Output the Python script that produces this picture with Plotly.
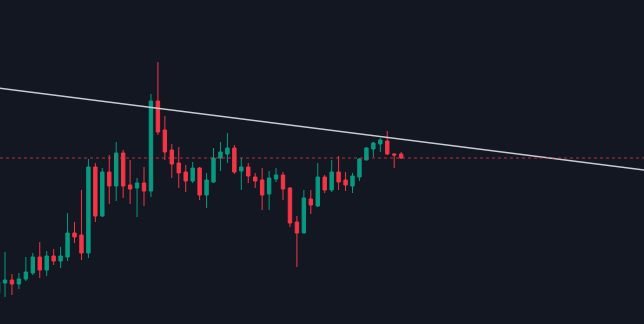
import pandas as pd
import plotly.graph_objects as go

# Daily OHLC series
start = pd.Timestamp("2024-03-01")
dates = pd.date_range(start, periods=59, freq="D")

opens = [2.07, 2.17, 2.20, 2.16, 2.21, 2.27, 2.43, 2.30, 2.44, 2.39,
         2.43, 2.67, 2.65, 2.47, 3.33, 2.84, 3.28, 3.14, 3.47, 3.15,
         3.12, 3.17, 3.09, 3.99, 3.70, 3.50, 3.37, 3.28, 3.19, 3.32,
         3.05, 3.18, 3.42, 3.46, 3.52, 3.29, 3.33, 3.23, 3.20, 3.06,
         3.21, 3.25, 3.12, 2.78, 2.67, 3.01, 2.94, 3.23, 3.10, 3.28,
         3.20, 3.14, 3.23, 3.40, 3.51, 3.56, 3.59, 3.46, 3.46]
highs = [2.20, 2.48, 2.26, 2.27, 2.43, 2.47, 2.58, 2.49, 2.51, 2.53,
         2.87, 2.78, 3.10, 3.41, 3.37, 3.32, 3.45, 3.58, 3.50, 3.40,
         3.22, 3.33, 4.06, 4.38, 3.84, 3.56, 3.53, 3.35, 3.38, 3.33,
         3.27, 3.52, 3.58, 3.67, 3.55, 3.42, 3.37, 3.27, 3.32, 3.29,
         3.32, 3.28, 3.13, 2.84, 3.10, 3.10, 3.37, 3.25, 3.40, 3.44,
         3.28, 3.27, 3.42, 3.53, 3.58, 3.62, 3.69, 3.47, 3.48]
lows = [2.04, 2.03, 2.05, 2.11, 2.19, 2.25, 2.22, 2.24, 2.35, 2.32,
        2.39, 2.57, 2.40, 2.42, 2.78, 2.83, 2.96, 2.99, 3.02, 2.96,
        2.83, 2.94, 3.03, 3.65, 3.40, 3.22, 3.12, 3.08, 3.17, 3.00,
        2.92, 3.17, 3.29, 3.37, 3.26, 3.10, 3.17, 3.12, 2.90, 2.90,
        3.18, 3.00, 2.73, 2.33, 2.67, 2.86, 2.93, 3.07, 3.08, 3.10,
        3.09, 3.07, 3.19, 3.40, 3.43, 3.48, 3.45, 3.32, 3.41]
closes = [2.18, 2.20, 2.16, 2.21, 2.28, 2.43, 2.30, 2.44, 2.39, 2.44,
          2.67, 2.63, 2.47, 3.33, 2.84, 3.28, 3.14, 3.47, 3.14, 3.11,
          3.17, 3.09, 3.99, 3.68, 3.48, 3.36, 3.27, 3.19, 3.32, 3.05,
          3.20, 3.42, 3.48, 3.52, 3.28, 3.33, 3.24, 3.19, 3.05, 3.22,
          3.25, 3.11, 2.77, 2.67, 3.02, 2.95, 3.23, 3.10, 3.28, 3.18,
          3.15, 3.24, 3.41, 3.52, 3.57, 3.60, 3.46, 3.45, 3.42]

# Descending trend line anchors (day offset from start, price)
trend_days = [0, 93]
trend_prices = [4.12, 3.30]

UP = "#089981"
DOWN = "#f23645"
BG = "#131722"

fig = go.Figure()

fig.add_trace(go.Candlestick(
    x=dates, open=opens, high=highs, low=lows, close=closes,
    increasing=dict(line=dict(color=UP, width=1), fillcolor=UP),
    decreasing=dict(line=dict(color=DOWN, width=1), fillcolor=DOWN),
    whiskerwidth=0,
    showlegend=False,
    hoverinfo="skip",
))

fig.add_trace(go.Scatter(
    x=[start + pd.Timedelta(days=d) for d in trend_days],
    y=trend_prices,
    mode="lines",
    line=dict(color="#c9cbd1", width=1.5),
    showlegend=False,
    hoverinfo="skip",
))

# Last close price line
fig.add_hline(y=closes[-1], line=dict(color=DOWN, width=1, dash="dot"), opacity=0.75)

x0 = start + pd.Timedelta(days=0.28)
x1 = start + pd.Timedelta(days=92.94)

fig.update_layout(
    width=644, height=324,
    margin=dict(l=0, r=0, t=0, b=0),
    paper_bgcolor=BG, plot_bgcolor=BG,
    xaxis=dict(visible=False, range=[x0, x1], rangeslider=dict(visible=False),
               showgrid=False, zeroline=False),
    yaxis=dict(visible=False, range=[1.76, 5.00], showgrid=False, zeroline=False),
)

fig.write_html("out.html")
